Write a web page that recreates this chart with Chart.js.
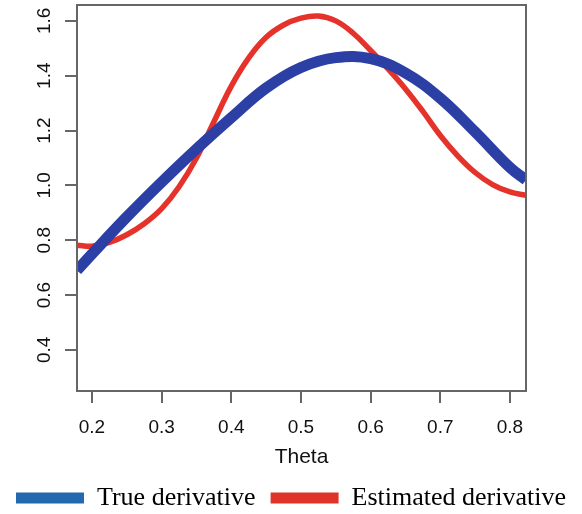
<!DOCTYPE html>
<html>
<head>
<meta charset="utf-8">
<script src="https://cdn.jsdelivr.net/npm/chart.js@4.4.1/dist/chart.umd.min.js"></script>
<style>
  html, body { margin: 0; padding: 0; background: #fff; }
  #wrap { width: 582px; height: 514px; }
</style>
</head>
<body>
<div id="wrap"><canvas id="chart" width="582" height="514"></canvas></div>
<script>
// values
const trueX = [0.1785, 0.2, 0.25, 0.3, 0.35, 0.4, 0.45, 0.5, 0.55, 0.6, 0.65, 0.7, 0.75, 0.8, 0.823];
const trueY = [0.69, 0.75, 0.885, 1.012, 1.133, 1.247, 1.355, 1.43, 1.466, 1.462, 1.41, 1.318, 1.195, 1.065, 1.02];

const estX = [0.1785, 0.2, 0.225, 0.25, 0.275, 0.3, 0.325, 0.35, 0.375, 0.4, 0.425, 0.45, 0.475, 0.5,
  0.525, 0.55, 0.575, 0.6, 0.625, 0.65, 0.675, 0.7, 0.725, 0.75, 0.775, 0.8, 0.823];
const estY = [0.782, 0.778, 0.792, 0.82, 0.86, 0.915, 0.995, 1.1, 1.232, 1.362, 1.465, 1.54, 1.585, 1.61,
  1.618, 1.6, 1.555, 1.492, 1.425, 1.352, 1.27, 1.182, 1.108, 1.047, 1.003, 0.976, 0.964];

const xTicks = [0.2, 0.3, 0.4, 0.5, 0.6, 0.7, 0.8];
const yTicks = [0.4, 0.6, 0.8, 1.0, 1.2, 1.4, 1.6];
const xRange = [0.1785, 0.823];
const yRange = [0.25, 1.658];

const seriesNames = ["True derivative", "Estimated derivative"];

const axisFont = { family: "'Liberation Sans', Arial, sans-serif", size: 19 };
const inkColor = "#111";
const frameColor = "#666";

// box round the plot like R's
const frameBox = {
  id: "frameBox",
  afterDatasetsDraw(chart) {
    const a = chart.chartArea;
    const ctx = chart.ctx;
    ctx.save();
    ctx.strokeStyle = frameColor;
    ctx.lineWidth = 2;
    ctx.strokeRect(a.left, a.top, a.right - a.left, a.bottom - a.top);
    ctx.restore();
  }
};

new Chart(document.getElementById("chart"), {
  type: "line",
  data: {
    datasets: [
      {
        label: seriesNames[0],
        data: trueX.map((x, i) => ({ x, y: trueY[i] })),
        borderColor: "#2b3fa5",
        borderWidth: 11,
        pointRadius: 0,
        tension: 0.4,
        clip: 0
      },
      {
        label: seriesNames[1],
        data: estX.map((x, i) => ({ x, y: estY[i] })),
        borderColor: "#e5322a",
        borderWidth: 5.5,
        pointRadius: 0,
        tension: 0.4,
        clip: 0
      }
    ]
  },
  options: {
    responsive: false,
    animation: false,
    layout: { padding: { top: 5, right: 0, left: 0, bottom: -7 } },
    plugins: {
      tooltip: { enabled: false },
      legend: {
        position: "bottom",
        labels: {
          boxWidth: 68,
          boxHeight: 11,
          padding: 15,
          color: "#111",
          font: { family: "'Liberation Serif', 'Times New Roman', serif", size: 26 },
          generateLabels: () => [
            { text: seriesNames[0], fillStyle: "#2468b0", strokeStyle: "#2468b0", lineWidth: 0, hidden: false, datasetIndex: 0 },
            { text: seriesNames[1], fillStyle: "#e03428", strokeStyle: "#e03428", lineWidth: 0, hidden: false, datasetIndex: 1 }
          ]
        }
      }
    },
    scales: {
      x: {
        type: "linear",
        min: xRange[0],
        max: xRange[1],
        afterBuildTicks: (s) => { s.ticks = xTicks.map((v) => ({ value: v })); },
        afterFit: (s) => { s.height = 79; s.paddingLeft = 0; s.paddingRight = 0; },
        grid: { drawOnChartArea: false, drawTicks: true, tickLength: 12, color: frameColor, lineWidth: 2 },
        border: { display: false },
        ticks: { color: inkColor, font: axisFont, padding: 13, maxRotation: 0, callback: (v) => v.toFixed(1) },
        title: {
          display: true,
          text: "Theta",
          color: inkColor,
          font: { family: "'Liberation Sans', Arial, sans-serif", size: 21 },
          padding: { top: 0, bottom: 0 }
        }
      },
      y: {
        type: "linear",
        min: yRange[0],
        max: yRange[1],
        afterBuildTicks: (s) => { s.ticks = yTicks.map((v) => ({ value: v })); },
        afterFit: (s) => { s.width = 77; s.paddingTop = 0; s.paddingBottom = 0; },
        grid: { drawOnChartArea: false, drawTicks: true, tickLength: 12, color: frameColor, lineWidth: 2 },
        border: { display: false },
        ticks: { color: inkColor, font: axisFont, padding: 7, minRotation: 90, maxRotation: 90, crossAlign: "center", callback: (v) => v.toFixed(1) }
      },
      // empty right margin so the legend can use the full width
      yRight: {
        type: "linear",
        position: "right",
        afterFit: (s) => { s.width = 56; s.paddingTop = 0; s.paddingBottom = 0; },
        grid: { display: false },
        border: { display: false },
        ticks: { display: false }
      }
    }
  },
  plugins: [frameBox]
});
</script>
</body>
</html>
